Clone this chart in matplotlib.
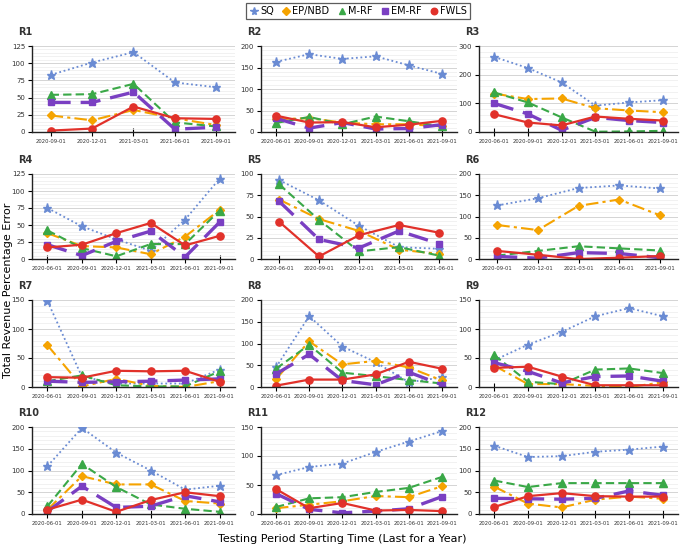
import matplotlib
matplotlib.use('Agg')
import matplotlib.pyplot as plt
from matplotlib.lines import Line2D
from matplotlib.ticker import MultipleLocator, AutoMinorLocator

W, H = 685, 548

regions = ['R1', 'R2', 'R3', 'R4', 'R5', 'R6', 'R7', 'R8', 'R9', 'R10', 'R11', 'R12']

dates_6 = ['2020-06-01', '2020-09-01', '2020-12-01', '2021-03-01', '2021-06-01', '2021-09-01']
dates_late = ['2020-09-01', '2020-12-01', '2021-03-01', '2021-06-01', '2021-09-01']
dates_early = ['2020-06-01', '2020-09-01', '2020-12-01', '2021-03-01', '2021-06-01']
region_dates = [dates_late, dates_6, dates_6, dates_6, dates_early, dates_late,
                dates_6, dates_6, dates_6, dates_6, dates_6, dates_6]

ymax = [125, 200, 300, 125, 100, 200, 150, 200, 150, 200, 150, 200]
ystep = [25, 50, 100, 25, 25, 50, 50, 50, 50, 50, 50, 50]

sq = [
    [83, 101, 116, 72, 65],
    [163, 181, 170, 176, 155, 135],
    [262, 223, 173, 92, 103, 111],
    [75, 48, 29, 12, 58, 118],
    [93, 69, 39, 14, 12],
    [126, 143, 167, 173, 166],
    [148, 18, 6, 6, 6, 30],
    [45, 163, 93, 57, 11, 22],
    [46, 73, 95, 122, 136, 122],
    [110, 198, 141, 100, 56, 65],
    [67, 81, 87, 107, 125, 143],
    [157, 131, 133, 143, 148, 155],
]
ep_nbd = [
    [24, 17, 32, 20, 10],
    [30, 32, 22, 18, 18, 13],
    [134, 115, 117, 83, 75, 69],
    [38, 19, 17, 7, 33, 72],
    [70, 47, 33, 11, 6],
    [80, 68, 125, 140, 103],
    [72, 1, 14, 2, 0, 10],
    [18, 105, 52, 60, 45, 15],
    [37, 5, 5, 2, 0, 8],
    [10, 87, 68, 68, 30, 24],
    [10, 16, 22, 31, 29, 48],
    [63, 24, 15, 33, 40, 35],
]
m_rf = [
    [54, 55, 70, 14, 8],
    [21, 35, 18, 36, 25, 13],
    [138, 103, 51, 1, 2, 4],
    [42, 16, 4, 22, 22, 71],
    [88, 46, 9, 14, 4],
    [8, 19, 30, 25, 20],
    [10, 20, 3, 1, 1, 27],
    [42, 97, 33, 25, 16, 8],
    [55, 9, 5, 30, 32, 24],
    [18, 115, 62, 22, 12, 5],
    [12, 27, 29, 38, 45, 64],
    [77, 62, 71, 71, 71, 71],
]
em_rf = [
    [43, 43, 58, 4, 7],
    [32, 9, 22, 7, 8, 17],
    [100, 63, 6, 51, 40, 33],
    [21, 5, 26, 41, 3, 54],
    [68, 23, 13, 33, 18],
    [6, 2, 15, 13, 3],
    [10, 8, 9, 10, 12, 14],
    [30, 75, 15, 5, 34, 5],
    [42, 27, 7, 18, 19, 10],
    [6, 64, 15, 18, 42, 28],
    [35, 8, 2, 5, 9, 30],
    [36, 35, 34, 36, 53, 43],
]
fwls = [
    [2, 5, 37, 20, 19],
    [38, 22, 23, 11, 17, 26],
    [62, 33, 23, 54, 46, 40],
    [17, 21, 38, 53, 20, 34],
    [44, 3, 28, 40, 31],
    [19, 10, 0, 3, 7],
    [17, 16, 28, 27, 28, 9],
    [3, 17, 17, 29, 58, 42],
    [33, 35, 18, 3, 3, 3],
    [10, 33, 5, 32, 50, 41],
    [43, 10, 19, 6, 7, 5],
    [16, 41, 48, 41, 40, 40],
]

series = [
    ('SQ', sq, dict(color='#6a8bd3', ls=(0, (1, 1.5)), lw=1.3, marker='*', ms=6.5)),
    ('EP/NBD', ep_nbd, dict(color='#f5a300', ls=(0, (6, 2, 1.5, 2)), lw=1.5, marker='D', ms=4.2)),
    ('M-RF', m_rf, dict(color='#3aa847', ls=(0, (4, 2)), lw=1.5, marker='^', ms=5.2)),
    ('EM-RF', em_rf, dict(color='#7a3fc2', ls=(0, (6, 3)), lw=2.4, marker='s', ms=4.8)),
    ('FWLS', fwls, dict(color='#e1312a', ls='-', lw=1.6, marker='o', ms=5.2)),
]

fig = plt.figure(figsize=(W / 100, H / 100), dpi=100)

col_px = [(32, 235), (261, 457), (479, 678)]
row_px = [(46, 132), (174, 259), (300, 387), (427, 514)]

for i, reg in enumerate(regions):
    r, c = divmod(i, 3)
    l, rt = col_px[c]
    t, b = row_px[r]
    ax = fig.add_axes([l / W, 1 - b / H, (rt - l) / W, (b - t) / H])
    dates = region_dates[i]
    x = list(range(len(dates)))
    for name, data, st in series:
        ax.plot(x, data[i], label=name, **st)
    ax.set_xlim(-0.45, len(dates) - 0.55)
    ax.set_ylim(0, ymax[i])
    ax.yaxis.set_major_locator(MultipleLocator(ystep[i]))
    ax.yaxis.set_minor_locator(AutoMinorLocator(5))
    ax.set_xticks(x)
    ax.set_xticklabels(dates, fontsize=3.8)
    ax.tick_params(axis='y', labelsize=5, length=3, width=0.8, pad=2, labelcolor='#333333')
    ax.tick_params(axis='y', which='minor', length=0)
    ax.tick_params(axis='x', direction='inout', length=6, width=0.8, pad=2, labelcolor='#333333')
    ax.grid(axis='y', which='major', color='#d4d4d4', lw=0.7)
    ax.grid(axis='y', which='minor', color='#ececec', lw=0.5)
    ax.set_axisbelow(True)
    for s in ['top', 'right']:
        ax.spines[s].set_visible(False)
    for s in ['left', 'bottom']:
        ax.spines[s].set_linewidth(1.0)
        ax.spines[s].set_color('#222222')
    ax.text(-14 / (rt - l), 1 + 14 / (b - t), reg, transform=ax.transAxes,
            fontsize=7, fontweight='bold', color='#333333', ha='left', va='center')

handles = [Line2D([], [], color=st['color'], marker=st['marker'], ls='none',
                  ms=st['ms'] * 0.9, label=name) for name, _, st in series]
leg = fig.legend(handles=handles, loc='center', bbox_to_anchor=(358 / W, 1 - 11 / H),
                 ncol=5, fontsize=7, frameon=True, fancybox=False, handletextpad=0.1,
                 columnspacing=0.8, handlelength=1.0, borderpad=0.35)
leg.get_frame().set_edgecolor('#333333')
leg.get_frame().set_linewidth(0.9)

fig.text(8 / W, 1 - 290 / H, 'Total Revenue Percentage Error', rotation=90,
         ha='center', va='center', fontsize=8)
fig.text(342 / W, 1 - 539 / H, 'Testing Period Starting Time (Last for a Year)',
         ha='center', va='center', fontsize=8)

fig.savefig('out.png', dpi=100)
